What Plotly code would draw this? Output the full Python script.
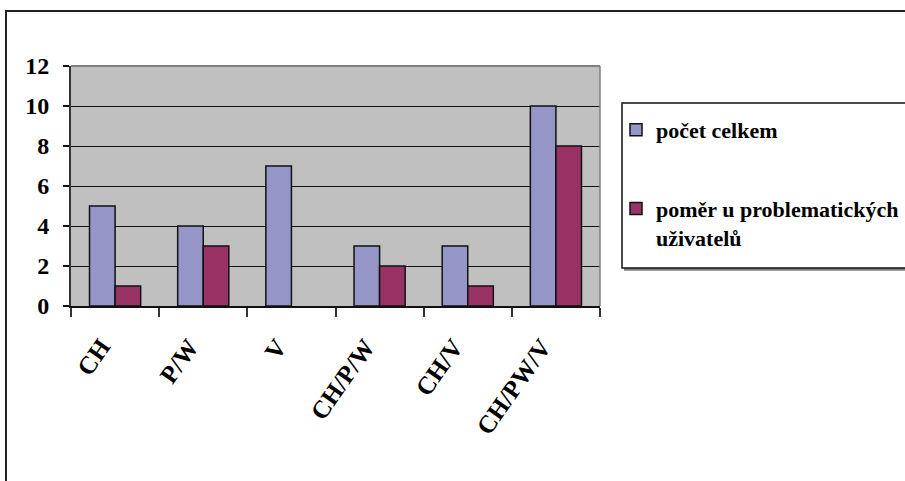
import plotly.graph_objects as go

categories = ["CH", "P/W", "V", "CH/P/W", "CH/V", "CH/PW/V"]
total_counts = [5, 4, 7, 3, 3, 10]
problem_counts = [1, 3, None, 2, 1, 8]
series_names = ["počet celkem", "poměr u problematických<br>uživatelů"]
y_ticks = [0, 2, 4, 6, 8, 10, 12]

FONT = "'Liberation Serif', 'Times New Roman', Times, serif"

fig = go.Figure()
fig.add_trace(go.Bar(
    x=categories, y=total_counts, name=series_names[0],
    marker=dict(color="#9595C8", line=dict(color="#111111", width=1.5)),
    legendgroup="a",
))
fig.add_trace(go.Bar(
    x=categories, y=problem_counts, name=series_names[1],
    marker=dict(color="#993366", line=dict(color="#111111", width=1.5)),
    legendgroup="b",
))

W, H = 905, 481
L, R, T, B = 71, 305, 66, 175
pw = W - L - R
ph = H - T - B

def px_x(x):
    return (x - L) / pw

def px_y(y):
    return (H - B - y) / ph

shapes = [
    # outer chart border (extends beyond the visible frame)
    dict(type="rect", xref="paper", yref="paper",
         x0=px_x(6), x1=px_x(915), y0=px_y(11), y1=px_y(490),
         line=dict(color="#222222", width=2), fillcolor="rgba(0,0,0,0)"),
    # plot area top/right border (gray)
    dict(type="line", xref="paper", yref="paper",
         x0=0, x1=1, y0=1, y1=1, line=dict(color="#808080", width=2)),
    dict(type="line", xref="paper", yref="paper",
         x0=1, x1=1, y0=0, y1=1, line=dict(color="#808080", width=1.5)),
    # legend shadow
    dict(type="line", xref="paper", yref="paper",
         x0=px_x(624), x1=px_x(915), y0=px_y(269.5), y1=px_y(269.5),
         line=dict(color="#808080", width=2.5)),
    # legend box
    dict(type="rect", xref="paper", yref="paper",
         x0=px_x(622), x1=px_x(912), y0=px_y(268), y1=px_y(103),
         line=dict(color="#111111", width=1.5), fillcolor="rgba(0,0,0,0)"),
]

fig.update_layout(
    width=W, height=H,
    margin=dict(l=L, r=R, t=T, b=B, autoexpand=False),
    paper_bgcolor="white",
    plot_bgcolor="#C0C0C0",
    barmode="group",
    bargap=0.42,
    bargroupgap=0,
    font=dict(family=FONT, color="black", weight="bold"),
    shapes=shapes,
    showlegend=True,
    legend=dict(
        x=px_x(616), xanchor="left",
        y=px_y(109), yanchor="top",
        font=dict(family=FONT, size=22, color="black", weight="bold"),
        bgcolor="rgba(0,0,0,0)",
        borderwidth=0,
        tracegroupgap=47,
        valign="top",
        traceorder="grouped",
    ),
    xaxis=dict(
        type="category",
        tickson="boundaries",
        ticks="outside", ticklen=9, tickwidth=1.5, tickcolor="#333333",
        showline=True, linecolor="#111111", linewidth=2,
        showgrid=False,
        tickangle=-55,
        tickfont=dict(family=FONT, size=25, color="black", weight="bold"),
        ticklabelstandoff=14,
        ticklabelshift=-14,
        fixedrange=True,
    ),
    yaxis=dict(
        range=[0, 12],
        tickvals=y_ticks,
        ticks="outside", ticklen=6, tickwidth=1.5, tickcolor="#111111",
        showline=True, linecolor="#333333", linewidth=2,
        showgrid=True, gridcolor="#111111", gridwidth=1,
        zeroline=False,
        tickfont=dict(family=FONT, size=24, color="black", weight="bold"),
        ticklabelstandoff=9,
        fixedrange=True,
    ),
)

fig.write_html(
    "out.html",
    config={"displayModeBar": False},
    post_script="document.body.style.margin='0';document.body.style.padding='0';",
)
